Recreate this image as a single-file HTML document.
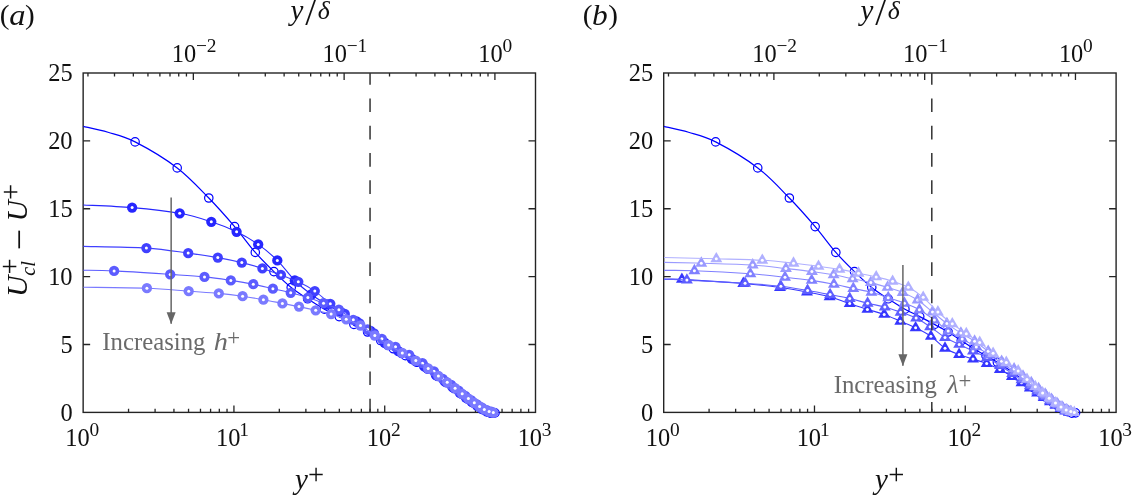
<!DOCTYPE html>
<html><head><meta charset="utf-8"><title>figure</title>
<style>html,body{margin:0;padding:0;background:#fff}svg{display:block}</style>
</head><body>
<svg width="1134" height="496" viewBox="0 0 1134 496" font-family='"Liberation Serif", serif'>
<rect width="1134" height="496" fill="#fff"/>
<clipPath id="ca"><rect x="83.15" y="73" width="472.35" height="351.4"/></clipPath>
<rect x="83.15" y="73" width="452.35" height="339.4" fill="none" stroke="#242424" stroke-width="1.4"/>
<path d="M128.54 412.4v-3.6M155.09 412.4v-3.6M173.93 412.4v-3.6M188.54 412.4v-3.6M200.48 412.4v-3.6M210.58 412.4v-3.6M219.32 412.4v-3.6M227.03 412.4v-3.6M233.93 412.4v-7M279.32 412.4v-3.6M305.88 412.4v-3.6M324.71 412.4v-3.6M339.33 412.4v-3.6M351.27 412.4v-3.6M361.36 412.4v-3.6M370.1 412.4v-3.6M377.82 412.4v-3.6M384.72 412.4v-7M430.11 412.4v-3.6M456.66 412.4v-3.6M475.5 412.4v-3.6M490.11 412.4v-3.6M502.05 412.4v-3.6M512.14 412.4v-3.6M520.89 412.4v-3.6M528.6 412.4v-3.6M87.95 73v3.6M114.5 73v3.6M133.34 73v3.6M147.95 73v3.6M159.89 73v3.6M169.99 73v3.6M178.73 73v3.6M186.44 73v3.6M193.34 73v7M238.73 73v3.6M265.28 73v3.6M284.12 73v3.6M298.74 73v3.6M310.68 73v3.6M320.77 73v3.6M329.51 73v3.6M337.23 73v3.6M344.13 73v7M389.52 73v3.6M416.07 73v3.6M434.91 73v3.6M449.52 73v3.6M461.46 73v3.6M471.55 73v3.6M480.3 73v3.6M488.01 73v3.6M494.91 73v7M83.15 344.52h7M535.5 344.52h-7M83.15 276.64h7M535.5 276.64h-7M83.15 208.76h7M535.5 208.76h-7M83.15 140.88h7M535.5 140.88h-7" stroke="#242424" stroke-width="1.3" fill="none"/>
<g clip-path="url(#ca)">
<path d="M83.3 126.4C87.42 127.38 99.37 129.72 108 132.3C116.63 134.88 123.57 135.97 135.1 141.9C146.63 147.83 164.92 158.55 177.2 167.9C189.48 177.25 199.23 188.22 208.8 198C218.37 207.78 226.85 217.53 234.6 226.6C242.35 235.67 248.75 244.9 255.3 252.4C261.85 259.9 267.92 265.75 273.9 271.6C279.88 277.45 285.58 282.97 291.2 287.5C296.82 292.03 302.07 295.18 307.6 298.8C313.13 302.42 319.13 306.23 324.4 309.2C329.67 312.17 334.28 314.07 339.2 316.6C344.12 319.13 349.17 321.83 353.9 324.4C358.63 326.97 363.13 329.31 367.6 332C372.07 334.69 376.41 337.78 380.71 340.57C385 343.36 389.25 346.23 393.37 348.75C397.49 351.27 401.51 353.43 405.42 355.68C409.33 357.93 413.16 360.03 416.82 362.25C420.48 364.46 424.03 366.72 427.38 368.98C430.73 371.24 433.9 373.65 436.92 375.83C439.94 378.01 442.79 380.07 445.51 382.07C448.23 384.07 450.8 385.96 453.26 387.83C455.72 389.69 458.03 391.54 460.25 393.26C462.47 394.99 464.56 396.66 466.57 398.18C468.58 399.71 470.49 401.08 472.33 402.4C474.17 403.72 475.93 404.97 477.63 406.12C479.33 407.27 480.95 408.38 482.53 409.31C484.1 410.23 485.61 411.05 487.08 411.68C488.55 412.3 490.02 412.88 491.34 413.08C492.66 413.28 494.39 412.93 495 412.9" fill="none" stroke="#0000ff" stroke-width="1.2" stroke-linejoin="round"/>
<g fill="none" stroke="#0000ff" stroke-width="1.2">
<circle cx="135.1" cy="141.9" r="4.2"/><circle cx="177.2" cy="167.9" r="4.2"/><circle cx="208.8" cy="198" r="4.2"/><circle cx="234.6" cy="226.6" r="4.2"/><circle cx="255.3" cy="252.4" r="4.2"/><circle cx="273.9" cy="271.6" r="4.2"/><circle cx="291.2" cy="287.5" r="4.2"/><circle cx="307.6" cy="298.8" r="4.2"/><circle cx="324.4" cy="309.2" r="4.2"/><circle cx="339.2" cy="316.6" r="4.2"/><circle cx="353.9" cy="324.4" r="4.2"/><circle cx="367.6" cy="332" r="4.2"/><circle cx="380.71" cy="340.57" r="4.2"/><circle cx="393.37" cy="348.75" r="4.2"/><circle cx="405.42" cy="355.68" r="4.2"/><circle cx="416.82" cy="362.25" r="4.2"/><circle cx="427.38" cy="368.98" r="4.2"/><circle cx="436.92" cy="375.83" r="4.2"/><circle cx="445.51" cy="382.07" r="4.2"/><circle cx="453.26" cy="387.83" r="4.2"/><circle cx="460.25" cy="393.26" r="4.2"/><circle cx="466.57" cy="398.18" r="4.2"/><circle cx="472.33" cy="402.4" r="4.2"/><circle cx="477.63" cy="406.12" r="4.2"/><circle cx="482.53" cy="409.31" r="4.2"/><circle cx="487.08" cy="411.68" r="4.2"/><circle cx="491.34" cy="413.08" r="4.2"/><circle cx="495" cy="412.9" r="4.2"/>
</g>
<path d="M83.3 205C91.43 205.43 116.03 206.22 132.1 207.6C148.17 208.98 166.5 210.93 179.7 213.3C192.9 215.67 201.82 218.72 211.3 221.8C220.78 224.88 228.78 228.03 236.6 231.8C244.42 235.57 251.42 239.63 258.2 244.4C264.98 249.17 271.2 254.38 277.3 260.4C283.4 266.42 289.13 274.82 294.8 280.5C300.47 286.18 305.93 290.5 311.3 294.5C316.67 298.5 321.88 301.42 327 304.5C332.12 307.58 337.08 310.17 342 313C346.92 315.83 351.75 318.5 356.5 321.5C361.25 324.5 365.82 327.46 370.5 331C375.18 334.54 379.97 339.4 384.6 342.75C389.23 346.1 393.77 348.41 398.3 351.09C402.83 353.77 407.48 356.26 411.8 358.82C416.12 361.38 420.18 363.76 424.2 366.45C428.22 369.15 432.48 372.5 435.9 374.99C439.32 377.47 441.92 379.34 444.7 381.38C447.48 383.42 450.1 385.34 452.6 387.23C455.1 389.12 457.48 391.01 459.7 392.73C461.92 394.45 463.88 396.03 465.9 397.56C467.92 399.1 469.93 400.57 471.8 401.92C473.67 403.27 475.43 404.52 477.1 405.65C478.77 406.79 480.22 407.81 481.8 408.76C483.38 409.71 485.1 410.67 486.6 411.35C488.1 412.04 490.1 412.61 490.8 412.86" fill="none" stroke="#2626ff" stroke-width="1.1" stroke-linejoin="round"/>
<g fill="#2626ff"><circle cx="132.1" cy="207.6" r="5.15"/><circle cx="179.7" cy="213.3" r="5.15"/><circle cx="211.3" cy="221.8" r="5.15"/><circle cx="236.6" cy="231.8" r="5.15"/><circle cx="258.2" cy="244.4" r="5.15"/><circle cx="277.3" cy="260.4" r="5.15"/><circle cx="294.8" cy="280.5" r="5.15"/><circle cx="311.3" cy="294.5" r="5.15"/><circle cx="327" cy="304.5" r="5.15"/><circle cx="342" cy="313" r="5.15"/><circle cx="356.5" cy="321.5" r="5.15"/><circle cx="370.5" cy="331" r="5.15"/><circle cx="384.6" cy="342.75" r="5.15"/><circle cx="398.3" cy="351.09" r="5.15"/><circle cx="411.8" cy="358.82" r="5.15"/><circle cx="424.2" cy="366.45" r="5.15"/><circle cx="435.9" cy="374.99" r="5.15"/><circle cx="444.7" cy="381.38" r="5.15"/><circle cx="452.6" cy="387.23" r="5.15"/><circle cx="459.7" cy="392.73" r="5.15"/><circle cx="465.9" cy="397.56" r="5.15"/><circle cx="471.8" cy="401.92" r="5.15"/><circle cx="477.1" cy="405.65" r="5.15"/><circle cx="481.8" cy="408.76" r="5.15"/><circle cx="486.6" cy="411.35" r="5.15"/><circle cx="490.8" cy="412.86" r="5.15"/></g>
<g fill="#fff"><circle cx="132.1" cy="207.6" r="1.5"/><circle cx="179.7" cy="213.3" r="1.5"/><circle cx="211.3" cy="221.8" r="1.5"/><circle cx="236.6" cy="231.8" r="1.5"/><circle cx="258.2" cy="244.4" r="1.5"/><circle cx="277.3" cy="260.4" r="1.5"/><circle cx="294.8" cy="280.5" r="1.5"/><circle cx="311.3" cy="294.5" r="1.5"/><circle cx="327" cy="304.5" r="1.5"/><circle cx="342" cy="313" r="1.5"/><circle cx="356.5" cy="321.5" r="1.5"/><circle cx="370.5" cy="331" r="1.5"/><circle cx="384.6" cy="342.75" r="1.5"/><circle cx="398.3" cy="351.09" r="1.5"/><circle cx="411.8" cy="358.82" r="1.5"/><circle cx="424.2" cy="366.45" r="1.5"/><circle cx="435.9" cy="374.99" r="1.5"/><circle cx="444.7" cy="381.38" r="1.5"/><circle cx="452.6" cy="387.23" r="1.5"/><circle cx="459.7" cy="392.73" r="1.5"/><circle cx="465.9" cy="397.56" r="1.5"/><circle cx="471.8" cy="401.92" r="1.5"/><circle cx="477.1" cy="405.65" r="1.5"/><circle cx="481.8" cy="408.76" r="1.5"/><circle cx="486.6" cy="411.35" r="1.5"/><circle cx="490.8" cy="412.86" r="1.5"/></g>
<path d="M83.3 246.4C93.82 246.68 128.92 246.98 146.4 248.1C163.88 249.22 176.3 251.52 188.2 253.1C200.1 254.68 208.87 256.02 217.8 257.6C226.73 259.18 234.37 260.8 241.8 262.6C249.23 264.4 255.88 266.35 262.4 268.4C268.92 270.45 274.92 272.67 280.9 274.9C286.88 277.13 292.65 279.1 298.3 281.8C303.95 284.5 309.47 287.43 314.8 291.1C320.13 294.77 325.3 299.98 330.3 303.8C335.3 307.62 339.93 310.75 344.8 314C349.67 317.25 354.63 320.08 359.5 323.3C364.37 326.52 369.25 329.65 374 333.3C378.75 336.95 383.38 341.88 388 345.19C392.62 348.5 397.17 350.54 401.7 353.15C406.23 355.77 410.88 358.26 415.2 360.86C419.52 363.45 423.83 366.18 427.6 368.72C431.37 371.25 434.63 373.77 437.8 376.06C440.97 378.36 443.82 380.42 446.6 382.46C449.38 384.51 452 386.44 454.5 388.35C457 390.26 459.38 392.2 461.6 393.93C463.82 395.66 465.78 397.23 467.8 398.74C469.82 400.24 471.83 401.65 473.7 402.97C475.57 404.3 477.33 405.57 479 406.68C480.67 407.79 482.12 408.76 483.7 409.63C485.28 410.5 487 411.37 488.5 411.93C490 412.48 492 412.8 492.7 412.97" fill="none" stroke="#4040ff" stroke-width="1.1" stroke-linejoin="round"/>
<g fill="#4040ff"><circle cx="146.4" cy="248.1" r="5.15"/><circle cx="188.2" cy="253.1" r="5.15"/><circle cx="217.8" cy="257.6" r="5.15"/><circle cx="241.8" cy="262.6" r="5.15"/><circle cx="262.4" cy="268.4" r="5.15"/><circle cx="280.9" cy="274.9" r="5.15"/><circle cx="298.3" cy="281.8" r="5.15"/><circle cx="314.8" cy="291.1" r="5.15"/><circle cx="330.3" cy="303.8" r="5.15"/><circle cx="344.8" cy="314" r="5.15"/><circle cx="359.5" cy="323.3" r="5.15"/><circle cx="374" cy="333.3" r="5.15"/><circle cx="388" cy="345.19" r="5.15"/><circle cx="401.7" cy="353.15" r="5.15"/><circle cx="415.2" cy="360.86" r="5.15"/><circle cx="427.6" cy="368.72" r="5.15"/><circle cx="437.8" cy="376.06" r="5.15"/><circle cx="446.6" cy="382.46" r="5.15"/><circle cx="454.5" cy="388.35" r="5.15"/><circle cx="461.6" cy="393.93" r="5.15"/><circle cx="467.8" cy="398.74" r="5.15"/><circle cx="473.7" cy="402.97" r="5.15"/><circle cx="479" cy="406.68" r="5.15"/><circle cx="483.7" cy="409.63" r="5.15"/><circle cx="488.5" cy="411.93" r="5.15"/><circle cx="492.7" cy="412.97" r="5.15"/></g>
<g fill="#fff"><circle cx="146.4" cy="248.1" r="1.5"/><circle cx="188.2" cy="253.1" r="1.5"/><circle cx="217.8" cy="257.6" r="1.5"/><circle cx="241.8" cy="262.6" r="1.5"/><circle cx="262.4" cy="268.4" r="1.5"/><circle cx="280.9" cy="274.9" r="1.5"/><circle cx="298.3" cy="281.8" r="1.5"/><circle cx="314.8" cy="291.1" r="1.5"/><circle cx="330.3" cy="303.8" r="1.5"/><circle cx="344.8" cy="314" r="1.5"/><circle cx="359.5" cy="323.3" r="1.5"/><circle cx="374" cy="333.3" r="1.5"/><circle cx="388" cy="345.19" r="1.5"/><circle cx="401.7" cy="353.15" r="1.5"/><circle cx="415.2" cy="360.86" r="1.5"/><circle cx="427.6" cy="368.72" r="1.5"/><circle cx="437.8" cy="376.06" r="1.5"/><circle cx="446.6" cy="382.46" r="1.5"/><circle cx="454.5" cy="388.35" r="1.5"/><circle cx="461.6" cy="393.93" r="1.5"/><circle cx="467.8" cy="398.74" r="1.5"/><circle cx="473.7" cy="402.97" r="1.5"/><circle cx="479" cy="406.68" r="1.5"/><circle cx="483.7" cy="409.63" r="1.5"/><circle cx="488.5" cy="411.93" r="1.5"/><circle cx="492.7" cy="412.97" r="1.5"/></g>
<path d="M83.3 270.2C88.43 270.32 99.62 270.2 114.1 270.9C128.58 271.6 155.13 273.4 170.2 274.4C185.27 275.4 194.4 275.9 204.5 276.9C214.6 277.9 222.67 279.18 230.8 280.4C238.93 281.62 246.28 282.82 253.3 284.2C260.32 285.58 266.67 287.27 272.9 288.7C279.13 290.13 284.87 291.32 290.7 292.8C296.53 294.28 302.43 295.87 307.9 297.6C313.37 299.33 318.33 301.18 323.5 303.2C328.67 305.22 333.93 306.93 338.9 309.7C343.87 312.47 348.52 316.5 353.3 319.8C358.08 323.1 362.83 326.33 367.6 329.5C372.37 332.67 377.25 335.92 381.9 338.8C386.55 341.68 390.95 344.13 395.5 346.8C400.05 349.47 404.7 352.07 409.2 354.8C413.7 357.53 418.37 360.45 422.5 363.2C426.63 365.95 430.62 368.7 434 371.3C437.38 373.9 439.94 376.52 442.8 378.8C445.66 381.07 448.51 382.97 451.15 384.95C453.79 386.93 456.29 388.88 458.65 390.7C461.01 392.52 463.18 394.28 465.3 395.9C467.42 397.52 469.41 398.99 471.35 400.4C473.29 401.81 475.18 403.14 476.95 404.35C478.72 405.56 480.33 406.67 481.95 407.65C483.58 408.62 485.16 409.52 486.7 410.2C488.24 410.88 490.45 411.49 491.2 411.75" fill="none" stroke="#5c5cff" stroke-width="1.1" stroke-linejoin="round"/>
<g fill="#5c5cff"><circle cx="114.1" cy="270.9" r="5.15"/><circle cx="170.2" cy="274.4" r="5.15"/><circle cx="204.5" cy="276.9" r="5.15"/><circle cx="230.8" cy="280.4" r="5.15"/><circle cx="253.3" cy="284.2" r="5.15"/><circle cx="272.9" cy="288.7" r="5.15"/><circle cx="290.7" cy="292.8" r="5.15"/><circle cx="307.9" cy="297.6" r="5.15"/><circle cx="323.5" cy="303.2" r="5.15"/><circle cx="338.9" cy="309.7" r="5.15"/><circle cx="353.3" cy="319.8" r="5.15"/><circle cx="367.6" cy="329.5" r="5.15"/><circle cx="381.9" cy="338.8" r="5.15"/><circle cx="395.5" cy="346.8" r="5.15"/><circle cx="409.2" cy="354.8" r="5.15"/><circle cx="422.5" cy="363.2" r="5.15"/><circle cx="434" cy="371.3" r="5.15"/><circle cx="442.8" cy="378.8" r="5.15"/><circle cx="451.15" cy="384.95" r="5.15"/><circle cx="458.65" cy="390.7" r="5.15"/><circle cx="465.3" cy="395.9" r="5.15"/><circle cx="471.35" cy="400.4" r="5.15"/><circle cx="476.95" cy="404.35" r="5.15"/><circle cx="481.95" cy="407.65" r="5.15"/><circle cx="486.7" cy="410.2" r="5.15"/><circle cx="491.2" cy="411.75" r="5.15"/></g>
<g fill="#fff"><circle cx="114.1" cy="270.9" r="1.5"/><circle cx="170.2" cy="274.4" r="1.5"/><circle cx="204.5" cy="276.9" r="1.5"/><circle cx="230.8" cy="280.4" r="1.5"/><circle cx="253.3" cy="284.2" r="1.5"/><circle cx="272.9" cy="288.7" r="1.5"/><circle cx="290.7" cy="292.8" r="1.5"/><circle cx="307.9" cy="297.6" r="1.5"/><circle cx="323.5" cy="303.2" r="1.5"/><circle cx="338.9" cy="309.7" r="1.5"/><circle cx="353.3" cy="319.8" r="1.5"/><circle cx="367.6" cy="329.5" r="1.5"/><circle cx="381.9" cy="338.8" r="1.5"/><circle cx="395.5" cy="346.8" r="1.5"/><circle cx="409.2" cy="354.8" r="1.5"/><circle cx="422.5" cy="363.2" r="1.5"/><circle cx="434" cy="371.3" r="1.5"/><circle cx="442.8" cy="378.8" r="1.5"/><circle cx="451.15" cy="384.95" r="1.5"/><circle cx="458.65" cy="390.7" r="1.5"/><circle cx="465.3" cy="395.9" r="1.5"/><circle cx="471.35" cy="400.4" r="1.5"/><circle cx="476.95" cy="404.35" r="1.5"/><circle cx="481.95" cy="407.65" r="1.5"/><circle cx="486.7" cy="410.2" r="1.5"/><circle cx="491.2" cy="411.75" r="1.5"/></g>
<path d="M83.3 287.2C93.9 287.37 129.33 287.53 146.9 288.2C164.47 288.87 176.72 290.33 188.7 291.2C200.68 292.07 209.82 292.57 218.8 293.4C227.78 294.23 235.17 295.15 242.6 296.2C250.03 297.25 256.77 298.5 263.4 299.7C270.03 300.9 276.47 302.25 282.4 303.4C288.33 304.55 293.45 305.45 299 306.6C304.55 307.75 310.35 309.05 315.7 310.3C321.05 311.55 326.02 312.6 331.1 314.1C336.18 315.6 341.3 317.4 346.2 319.3C351.1 321.2 355.73 322.8 360.5 325.5C365.27 328.2 370.12 332.25 374.8 335.5C379.48 338.75 384.02 342.1 388.6 345C393.18 347.9 397.77 350.3 402.3 352.9C406.83 355.5 411.48 358 415.8 360.6C420.12 363.2 424.43 365.95 428.2 368.5C431.97 371.05 435.23 373.6 438.4 375.9C441.57 378.2 444.42 380.25 447.2 382.3C449.98 384.35 452.6 386.28 455.1 388.2C457.6 390.12 459.98 392.07 462.2 393.8C464.42 395.53 466.38 397.1 468.4 398.6C470.42 400.1 472.43 401.48 474.3 402.8C476.17 404.12 477.93 405.4 479.6 406.5C481.27 407.6 482.72 408.55 484.3 409.4C485.88 410.25 487.6 411.08 489.1 411.6C490.6 412.12 492.6 412.35 493.3 412.5" fill="none" stroke="#7a7aff" stroke-width="1.1" stroke-linejoin="round"/>
<g fill="#7a7aff"><circle cx="146.9" cy="288.2" r="5.15"/><circle cx="188.7" cy="291.2" r="5.15"/><circle cx="218.8" cy="293.4" r="5.15"/><circle cx="242.6" cy="296.2" r="5.15"/><circle cx="263.4" cy="299.7" r="5.15"/><circle cx="282.4" cy="303.4" r="5.15"/><circle cx="299" cy="306.6" r="5.15"/><circle cx="315.7" cy="310.3" r="5.15"/><circle cx="331.1" cy="314.1" r="5.15"/><circle cx="346.2" cy="319.3" r="5.15"/><circle cx="360.5" cy="325.5" r="5.15"/><circle cx="374.8" cy="335.5" r="5.15"/><circle cx="388.6" cy="345" r="5.15"/><circle cx="402.3" cy="352.9" r="5.15"/><circle cx="415.8" cy="360.6" r="5.15"/><circle cx="428.2" cy="368.5" r="5.15"/><circle cx="438.4" cy="375.9" r="5.15"/><circle cx="447.2" cy="382.3" r="5.15"/><circle cx="455.1" cy="388.2" r="5.15"/><circle cx="462.2" cy="393.8" r="5.15"/><circle cx="468.4" cy="398.6" r="5.15"/><circle cx="474.3" cy="402.8" r="5.15"/><circle cx="479.6" cy="406.5" r="5.15"/><circle cx="484.3" cy="409.4" r="5.15"/><circle cx="489.1" cy="411.6" r="5.15"/><circle cx="493.3" cy="412.5" r="5.15"/></g>
<g fill="#fff"><circle cx="146.9" cy="288.2" r="1.5"/><circle cx="188.7" cy="291.2" r="1.5"/><circle cx="218.8" cy="293.4" r="1.5"/><circle cx="242.6" cy="296.2" r="1.5"/><circle cx="263.4" cy="299.7" r="1.5"/><circle cx="282.4" cy="303.4" r="1.5"/><circle cx="299" cy="306.6" r="1.5"/><circle cx="315.7" cy="310.3" r="1.5"/><circle cx="331.1" cy="314.1" r="1.5"/><circle cx="346.2" cy="319.3" r="1.5"/><circle cx="360.5" cy="325.5" r="1.5"/><circle cx="374.8" cy="335.5" r="1.5"/><circle cx="388.6" cy="345" r="1.5"/><circle cx="402.3" cy="352.9" r="1.5"/><circle cx="415.8" cy="360.6" r="1.5"/><circle cx="428.2" cy="368.5" r="1.5"/><circle cx="438.4" cy="375.9" r="1.5"/><circle cx="447.2" cy="382.3" r="1.5"/><circle cx="455.1" cy="388.2" r="1.5"/><circle cx="462.2" cy="393.8" r="1.5"/><circle cx="468.4" cy="398.6" r="1.5"/><circle cx="474.3" cy="402.8" r="1.5"/><circle cx="479.6" cy="406.5" r="1.5"/><circle cx="484.3" cy="409.4" r="1.5"/><circle cx="489.1" cy="411.6" r="1.5"/><circle cx="493.3" cy="412.5" r="1.5"/></g>
</g>
<path d="M370.05 412.4V73" stroke="#333" stroke-width="1.5" stroke-dasharray="13.65 13.65" fill="none"/>
<path d="M171.15 197.5V323.7" stroke="#666" stroke-width="1.5" fill="none"/>
<path d="M171.15 323.9l-4.5 -11.7h9z" fill="#666"/>
<text x="60.38" y="420.8" font-size="24.4" fill="#111">0</text>
<text x="60.4" y="352.92" font-size="24.4" fill="#111">5</text>
<text x="48.18" y="285.04" font-size="24.4" fill="#111">10</text>
<text x="48.2" y="217.16" font-size="24.4" fill="#111">15</text>
<text x="48.18" y="149.28" font-size="24.4" fill="#111">20</text>
<text x="48.2" y="81.4" font-size="24.4" fill="#111">25</text>
<text x="65.31" y="445.8" font-size="24.4" fill="#111">10</text>
<text x="89.51" y="436.3" font-size="19.4" fill="#111">0</text>
<text x="216.09" y="445.8" font-size="24.4" fill="#111">10</text>
<text x="239.33" y="436.3" font-size="19.4" fill="#111">1</text>
<text x="366.87" y="445.8" font-size="24.4" fill="#111">10</text>
<text x="390.96" y="436.3" font-size="19.4" fill="#111">2</text>
<text x="517.66" y="445.8" font-size="24.4" fill="#111">10</text>
<text x="541.67" y="436.3" font-size="19.4" fill="#111">3</text>
<text x="171.7" y="61.9" font-size="24.4" fill="#111">10</text>
<text x="195.88" y="52.4" font-size="19.4" fill="#111">−2</text>
<text x="322.48" y="61.9" font-size="24.4" fill="#111">10</text>
<text x="346.66" y="52.4" font-size="19.4" fill="#111">−1</text>
<text x="478.37" y="61.9" font-size="24.4" fill="#111">10</text>
<text x="502.57" y="52.4" font-size="19.4" fill="#111">0</text>
<text x="290.41" y="19.51" font-size="29" font-style="italic" fill="#111">y</text>
<text x="305.3" y="25.42" font-size="38.5" fill="#111">/</text>
<text x="317.64" y="19.25" font-size="25.8" font-style="italic" fill="#111">δ</text>
<text x="294.91" y="489.21" font-size="29" font-style="italic" fill="#111">y</text>
<text x="307.97" y="483.6" font-size="28.6" fill="#111">+</text>
<text transform="translate(-0.28 24.09) scale(1.050 1)" font-size="27.8" fill="#111">(</text>
<text transform="translate(9.13 24.6) scale(1.105 1)" font-size="29.5" font-style="italic" fill="#111">a</text>
<text transform="translate(25.06 24.09) scale(1.050 1)" font-size="27.8" fill="#111">)</text>
<text transform="translate(102.3 350.1) scale(1.016 1)" font-size="24.4" fill="#6a6a6a">Increasing</text>
<text transform="translate(213.87 350.1) scale(1.164 1)" font-size="24.4" font-style="italic" fill="#6a6a6a">h</text>
<text x="227.16" y="344.57" font-size="22.8" fill="#6a6a6a">+</text>
<g transform="translate(27.2 294.6) rotate(-90)">
<text transform="translate(-2.45 0) scale(0.982 1)" font-size="30.5" font-style="italic" fill="#111">U</text>
<text x="18.78" y="7.6" font-size="20.2" font-style="italic" fill="#111">cl</text>
<text x="20.22" y="-7.9" font-size="28.6" fill="#111">+</text>
<text transform="translate(44.31 3.42) scale(1.087 1)" font-size="35" fill="#111">−</text>
<text transform="translate(73.19 0) scale(0.967 1)" font-size="30.5" font-style="italic" fill="#111">U</text>
<text x="94.62" y="-7.3" font-size="28.6" fill="#111">+</text>
</g>
<clipPath id="cb"><rect x="663.7" y="73" width="472.4" height="351.4"/></clipPath>
<rect x="663.7" y="73" width="452.4" height="339.4" fill="none" stroke="#242424" stroke-width="1.4"/>
<path d="M709.09 412.4v-3.6M735.64 412.4v-3.6M754.48 412.4v-3.6M769.09 412.4v-3.6M781.03 412.4v-3.6M791.13 412.4v-3.6M799.87 412.4v-3.6M807.58 412.4v-3.6M814.48 412.4v-7M859.87 412.4v-3.6M886.43 412.4v-3.6M905.26 412.4v-3.6M919.88 412.4v-3.6M931.82 412.4v-3.6M941.91 412.4v-3.6M950.65 412.4v-3.6M958.37 412.4v-3.6M965.27 412.4v-7M1010.66 412.4v-3.6M1037.21 412.4v-3.6M1056.05 412.4v-3.6M1070.66 412.4v-3.6M1082.6 412.4v-3.6M1092.69 412.4v-3.6M1101.44 412.4v-3.6M1109.15 412.4v-3.6M668.5 73v3.6M695.05 73v3.6M713.89 73v3.6M728.5 73v3.6M740.44 73v3.6M750.54 73v3.6M759.28 73v3.6M766.99 73v3.6M773.89 73v7M819.28 73v3.6M845.83 73v3.6M864.67 73v3.6M879.29 73v3.6M891.23 73v3.6M901.32 73v3.6M910.06 73v3.6M917.78 73v3.6M924.68 73v7M970.07 73v3.6M996.62 73v3.6M1015.46 73v3.6M1030.07 73v3.6M1042.01 73v3.6M1052.1 73v3.6M1060.85 73v3.6M1068.56 73v3.6M1075.46 73v7M663.7 344.52h7M1116.1 344.52h-7M663.7 276.64h7M1116.1 276.64h-7M663.7 208.76h7M1116.1 208.76h-7M663.7 140.88h7M1116.1 140.88h-7" stroke="#242424" stroke-width="1.3" fill="none"/>
<g clip-path="url(#cb)">
<path d="M663.85 126.4C667.97 127.38 679.92 129.72 688.55 132.3C697.18 134.88 704.12 135.97 715.65 141.9C727.18 147.83 745.47 158.55 757.75 167.9C770.03 177.25 779.78 188.22 789.35 198C798.92 207.78 807.4 217.53 815.15 226.6C822.9 235.67 829.3 244.9 835.85 252.4C842.4 259.9 848.47 265.75 854.45 271.6C860.43 277.45 866.13 282.97 871.75 287.5C877.37 292.03 882.62 295.18 888.15 298.8C893.68 302.42 899.68 306.23 904.95 309.2C910.22 312.17 914.83 314.07 919.75 316.6C924.67 319.13 929.72 321.83 934.45 324.4C939.18 326.97 943.68 329.31 948.15 332C952.62 334.69 956.96 337.78 961.26 340.57C965.55 343.36 969.8 346.23 973.92 348.75C978.04 351.27 982.06 353.43 985.97 355.68C989.88 357.93 993.71 360.03 997.37 362.25C1001.03 364.46 1004.58 366.72 1007.93 368.98C1011.28 371.24 1014.45 373.65 1017.47 375.83C1020.49 378.01 1023.34 380.07 1026.06 382.07C1028.78 384.07 1031.35 385.96 1033.81 387.83C1036.27 389.69 1038.58 391.54 1040.8 393.26C1043.02 394.99 1045.11 396.66 1047.12 398.18C1049.13 399.71 1051.04 401.08 1052.88 402.4C1054.72 403.72 1056.48 404.97 1058.18 406.12C1059.88 407.27 1061.5 408.38 1063.08 409.31C1064.65 410.23 1066.16 411.05 1067.63 411.68C1069.1 412.3 1070.57 412.88 1071.89 413.08C1073.21 413.28 1074.94 412.93 1075.55 412.9" fill="none" stroke="#0000ff" stroke-width="1.2" stroke-linejoin="round"/>
<g fill="none" stroke="#0000ff" stroke-width="1.2">
<circle cx="715.65" cy="141.9" r="4.2"/><circle cx="757.75" cy="167.9" r="4.2"/><circle cx="789.35" cy="198" r="4.2"/><circle cx="815.15" cy="226.6" r="4.2"/><circle cx="835.85" cy="252.4" r="4.2"/><circle cx="854.45" cy="271.6" r="4.2"/><circle cx="871.75" cy="287.5" r="4.2"/><circle cx="888.15" cy="298.8" r="4.2"/><circle cx="904.95" cy="309.2" r="4.2"/><circle cx="919.75" cy="316.6" r="4.2"/><circle cx="934.45" cy="324.4" r="4.2"/><circle cx="948.15" cy="332" r="4.2"/><circle cx="961.26" cy="340.57" r="4.2"/><circle cx="973.92" cy="348.75" r="4.2"/><circle cx="985.97" cy="355.68" r="4.2"/><circle cx="997.37" cy="362.25" r="4.2"/><circle cx="1007.93" cy="368.98" r="4.2"/><circle cx="1017.47" cy="375.83" r="4.2"/><circle cx="1026.06" cy="382.07" r="4.2"/><circle cx="1033.81" cy="387.83" r="4.2"/><circle cx="1040.8" cy="393.26" r="4.2"/><circle cx="1047.12" cy="398.18" r="4.2"/><circle cx="1052.88" cy="402.4" r="4.2"/><circle cx="1058.18" cy="406.12" r="4.2"/><circle cx="1063.08" cy="409.31" r="4.2"/><circle cx="1067.63" cy="411.68" r="4.2"/><circle cx="1071.89" cy="413.08" r="4.2"/><circle cx="1075.55" cy="412.9" r="4.2"/>
</g>
<path d="M663.9 279.3C666.9 279.32 668.67 278.7 681.9 279.4C695.13 280.1 726.95 282.15 743.3 283.5C759.65 284.85 769.38 286.08 780 287.5C790.62 288.92 798.73 290.45 807 292C815.27 293.55 822.48 294.87 829.6 296.8C836.72 298.73 843.4 301.5 849.7 303.6C856 305.7 861.65 307.6 867.4 309.4C873.15 311.2 878.72 312.43 884.2 314.4C889.68 316.37 895.07 318.97 900.3 321.2C905.53 323.43 910.5 325.28 915.6 327.8C920.7 330.32 926 332.9 930.9 336.3C935.8 339.7 940.3 345.17 945 348.2C949.7 351.23 954.43 352.68 959.1 354.5C963.77 356.32 968.4 357.6 973 359.1C977.6 360.6 982.23 361.75 986.7 363.5C991.17 365.25 995.6 367.43 999.8 369.6C1004 371.77 1008.28 374.31 1011.9 376.5C1015.52 378.69 1018.52 380.78 1021.5 382.72C1024.48 384.65 1027.2 386.39 1029.8 388.1C1032.4 389.81 1034.78 391.39 1037.1 392.97C1039.42 394.55 1041.55 396.09 1043.7 397.57C1045.85 399.05 1048.03 400.57 1050 401.86C1051.97 403.14 1053.72 404.19 1055.5 405.29C1057.28 406.4 1059.07 407.54 1060.7 408.48C1062.33 409.43 1063.95 410.3 1065.3 410.95C1066.65 411.6 1068.22 412.15 1068.8 412.39" fill="none" stroke="#3636ff" stroke-width="1.1" stroke-linejoin="round"/>
<g fill="#3636ff">
<path d="M681.9 272.5l5.98 10.35h-11.95z"/><path d="M743.3 276.6l5.98 10.35h-11.95z"/><path d="M780 280.6l5.98 10.35h-11.95z"/><path d="M807 285.1l5.98 10.35h-11.95z"/><path d="M829.6 289.9l5.98 10.35h-11.95z"/><path d="M849.7 296.7l5.98 10.35h-11.95z"/><path d="M867.4 302.5l5.98 10.35h-11.95z"/><path d="M884.2 307.5l5.98 10.35h-11.95z"/><path d="M900.3 314.3l5.98 10.35h-11.95z"/><path d="M915.6 320.9l5.98 10.35h-11.95z"/><path d="M930.9 329.4l5.98 10.35h-11.95z"/><path d="M945 341.3l5.98 10.35h-11.95z"/><path d="M959.1 347.6l5.98 10.35h-11.95z"/><path d="M973 352.2l5.98 10.35h-11.95z"/><path d="M986.7 356.6l5.98 10.35h-11.95z"/><path d="M999.8 362.7l5.98 10.35h-11.95z"/><path d="M1011.9 369.6l5.98 10.35h-11.95z"/><path d="M1021.5 375.82l5.98 10.35h-11.95z"/><path d="M1029.8 381.2l5.98 10.35h-11.95z"/><path d="M1037.1 386.07l5.98 10.35h-11.95z"/><path d="M1043.7 390.67l5.98 10.35h-11.95z"/><path d="M1050 394.96l5.98 10.35h-11.95z"/><path d="M1055.5 398.39l5.98 10.35h-11.95z"/><path d="M1060.7 401.58l5.98 10.35h-11.95z"/><path d="M1065.3 404.05l5.98 10.35h-11.95z"/><path d="M1068.8 405.49l5.98 10.35h-11.95z"/>
</g>
<g fill="#fff"><circle cx="681.9" cy="279.4" r="1.5"/><circle cx="743.3" cy="283.5" r="1.5"/><circle cx="780" cy="287.5" r="1.5"/><circle cx="807" cy="292" r="1.5"/><circle cx="829.6" cy="296.8" r="1.5"/><circle cx="849.7" cy="303.6" r="1.5"/><circle cx="867.4" cy="309.4" r="1.5"/><circle cx="884.2" cy="314.4" r="1.5"/><circle cx="900.3" cy="321.2" r="1.5"/><circle cx="915.6" cy="327.8" r="1.5"/><circle cx="930.9" cy="336.3" r="1.5"/><circle cx="945" cy="348.2" r="1.5"/><circle cx="959.1" cy="354.5" r="1.5"/><circle cx="973" cy="359.1" r="1.5"/><circle cx="986.7" cy="363.5" r="1.5"/><circle cx="999.8" cy="369.6" r="1.5"/><circle cx="1011.9" cy="376.5" r="1.5"/><circle cx="1021.5" cy="382.72" r="1.5"/><circle cx="1029.8" cy="388.1" r="1.5"/><circle cx="1037.1" cy="392.97" r="1.5"/><circle cx="1043.7" cy="397.57" r="1.5"/><circle cx="1050" cy="401.86" r="1.5"/><circle cx="1055.5" cy="405.29" r="1.5"/><circle cx="1060.7" cy="408.48" r="1.5"/><circle cx="1065.3" cy="410.95" r="1.5"/><circle cx="1068.8" cy="412.39" r="1.5"/></g>
<path d="M663.9 279C667.73 279.18 673.37 279.4 686.9 280.1C700.43 280.8 729.43 282.17 745.1 283.2C760.77 284.23 770.48 285.08 780.9 286.3C791.32 287.52 799.4 289.12 807.6 290.5C815.8 291.88 823.08 293.27 830.1 294.6C837.12 295.93 843.45 297.07 849.7 298.5C855.95 299.93 861.75 301.78 867.6 303.2C873.45 304.62 879.3 305.5 884.8 307C890.3 308.5 895.38 310.37 900.6 312.2C905.82 314.03 911.18 315.58 916.1 318C921.02 320.42 925.28 323.45 930.1 326.7C934.92 329.95 940.15 334.55 945 337.5C949.85 340.45 954.53 342.13 959.2 344.4C963.87 346.67 968.37 348.9 973 351.1C977.63 353.3 982.5 355.2 987 357.6C991.5 360 995.8 362.85 1000 365.5C1004.2 368.15 1008.62 371.1 1012.2 373.5C1015.78 375.9 1018.57 377.88 1021.5 379.92C1024.43 381.96 1027.2 383.88 1029.8 385.72C1032.4 387.56 1034.78 389.28 1037.1 390.98C1039.42 392.68 1041.55 394.34 1043.7 395.94C1045.85 397.53 1048.03 399.15 1050 400.54C1051.97 401.93 1053.72 403.07 1055.5 404.26C1057.28 405.46 1059.07 406.68 1060.7 407.7C1062.33 408.71 1063.95 409.65 1065.3 410.35C1066.65 411.05 1068.22 411.63 1068.8 411.89" fill="none" stroke="#5e5eff" stroke-width="1.1" stroke-linejoin="round"/>
<g fill="#5e5eff">
<path d="M686.9 273.2l5.98 10.35h-11.95z"/><path d="M745.1 276.3l5.98 10.35h-11.95z"/><path d="M780.9 279.4l5.98 10.35h-11.95z"/><path d="M807.6 283.6l5.98 10.35h-11.95z"/><path d="M830.1 287.7l5.98 10.35h-11.95z"/><path d="M849.7 291.6l5.98 10.35h-11.95z"/><path d="M867.6 296.3l5.98 10.35h-11.95z"/><path d="M884.8 300.1l5.98 10.35h-11.95z"/><path d="M900.6 305.3l5.98 10.35h-11.95z"/><path d="M916.1 311.1l5.98 10.35h-11.95z"/><path d="M930.1 319.8l5.98 10.35h-11.95z"/><path d="M945 330.6l5.98 10.35h-11.95z"/><path d="M959.2 337.5l5.98 10.35h-11.95z"/><path d="M973 344.2l5.98 10.35h-11.95z"/><path d="M987 350.7l5.98 10.35h-11.95z"/><path d="M1000 358.6l5.98 10.35h-11.95z"/><path d="M1012.2 366.6l5.98 10.35h-11.95z"/><path d="M1021.5 373.02l5.98 10.35h-11.95z"/><path d="M1029.8 378.82l5.98 10.35h-11.95z"/><path d="M1037.1 384.08l5.98 10.35h-11.95z"/><path d="M1043.7 389.04l5.98 10.35h-11.95z"/><path d="M1050 393.64l5.98 10.35h-11.95z"/><path d="M1055.5 397.36l5.98 10.35h-11.95z"/><path d="M1060.7 400.8l5.98 10.35h-11.95z"/><path d="M1065.3 403.45l5.98 10.35h-11.95z"/><path d="M1068.8 404.99l5.98 10.35h-11.95z"/>
</g>
<g fill="#fff"><circle cx="686.9" cy="280.1" r="1.5"/><circle cx="745.1" cy="283.2" r="1.5"/><circle cx="780.9" cy="286.3" r="1.5"/><circle cx="807.6" cy="290.5" r="1.5"/><circle cx="830.1" cy="294.6" r="1.5"/><circle cx="849.7" cy="298.5" r="1.5"/><circle cx="867.6" cy="303.2" r="1.5"/><circle cx="884.8" cy="307" r="1.5"/><circle cx="900.6" cy="312.2" r="1.5"/><circle cx="916.1" cy="318" r="1.5"/><circle cx="930.1" cy="326.7" r="1.5"/><circle cx="945" cy="337.5" r="1.5"/><circle cx="959.2" cy="344.4" r="1.5"/><circle cx="973" cy="351.1" r="1.5"/><circle cx="987" cy="357.6" r="1.5"/><circle cx="1000" cy="365.5" r="1.5"/><circle cx="1012.2" cy="373.5" r="1.5"/><circle cx="1021.5" cy="379.92" r="1.5"/><circle cx="1029.8" cy="385.72" r="1.5"/><circle cx="1037.1" cy="390.98" r="1.5"/><circle cx="1043.7" cy="395.94" r="1.5"/><circle cx="1050" cy="400.54" r="1.5"/><circle cx="1055.5" cy="404.26" r="1.5"/><circle cx="1060.7" cy="407.7" r="1.5"/><circle cx="1065.3" cy="410.35" r="1.5"/><circle cx="1068.8" cy="411.89" r="1.5"/></g>
<path d="M663.9 270.4C668.98 270.45 679.98 270.13 694.4 270.7C708.82 271.27 735.3 272.72 750.4 273.8C765.5 274.88 774.78 276.1 785 277.2C795.22 278.3 803.55 279.23 811.7 280.4C819.85 281.57 826.97 282.85 833.9 284.2C840.83 285.55 847.05 287.15 853.3 288.5C859.55 289.85 865.58 290.77 871.4 292.3C877.22 293.83 882.7 295.88 888.2 297.7C893.7 299.52 899.2 301.2 904.4 303.2C909.6 305.2 914.4 306.9 919.4 309.7C924.4 312.5 929.6 316.45 934.4 320C939.2 323.55 943.57 327.85 948.2 331C952.83 334.15 957.52 336.25 962.2 338.9C966.88 341.55 971.72 344.22 976.3 346.9C980.88 349.58 985.25 352.15 989.7 355C994.15 357.85 998.75 361.2 1003 364C1007.25 366.8 1011.7 369.38 1015.2 371.8C1018.7 374.22 1021.15 376.36 1024 378.54C1026.85 380.71 1029.7 382.84 1032.3 384.86C1034.9 386.88 1037.28 388.81 1039.6 390.66C1041.92 392.52 1044.05 394.3 1046.2 395.99C1048.35 397.68 1050.53 399.33 1052.5 400.8C1054.47 402.27 1056.22 403.56 1058 404.81C1059.78 406.06 1061.57 407.32 1063.2 408.31C1064.83 409.31 1066.45 410.16 1067.8 410.78C1069.15 411.4 1070.72 411.83 1071.3 412.04" fill="none" stroke="#8080ff" stroke-width="1.1" stroke-linejoin="round"/>
<g fill="#8080ff">
<path d="M694.4 263.8l5.98 10.35h-11.95z"/><path d="M750.4 266.9l5.98 10.35h-11.95z"/><path d="M785 270.3l5.98 10.35h-11.95z"/><path d="M811.7 273.5l5.98 10.35h-11.95z"/><path d="M833.9 277.3l5.98 10.35h-11.95z"/><path d="M853.3 281.6l5.98 10.35h-11.95z"/><path d="M871.4 285.4l5.98 10.35h-11.95z"/><path d="M888.2 290.8l5.98 10.35h-11.95z"/><path d="M904.4 296.3l5.98 10.35h-11.95z"/><path d="M919.4 302.8l5.98 10.35h-11.95z"/><path d="M934.4 313.1l5.98 10.35h-11.95z"/><path d="M948.2 324.1l5.98 10.35h-11.95z"/><path d="M962.2 332l5.98 10.35h-11.95z"/><path d="M976.3 340l5.98 10.35h-11.95z"/><path d="M989.7 348.1l5.98 10.35h-11.95z"/><path d="M1003 357.1l5.98 10.35h-11.95z"/><path d="M1015.2 364.9l5.98 10.35h-11.95z"/><path d="M1024 371.64l5.98 10.35h-11.95z"/><path d="M1032.3 377.96l5.98 10.35h-11.95z"/><path d="M1039.6 383.76l5.98 10.35h-11.95z"/><path d="M1046.2 389.09l5.98 10.35h-11.95z"/><path d="M1052.5 393.9l5.98 10.35h-11.95z"/><path d="M1058 397.91l5.98 10.35h-11.95z"/><path d="M1063.2 401.41l5.98 10.35h-11.95z"/><path d="M1067.8 403.88l5.98 10.35h-11.95z"/><path d="M1071.3 405.14l5.98 10.35h-11.95z"/>
</g>
<g fill="#fff"><circle cx="694.4" cy="270.7" r="1.5"/><circle cx="750.4" cy="273.8" r="1.5"/><circle cx="785" cy="277.2" r="1.5"/><circle cx="811.7" cy="280.4" r="1.5"/><circle cx="833.9" cy="284.2" r="1.5"/><circle cx="853.3" cy="288.5" r="1.5"/><circle cx="871.4" cy="292.3" r="1.5"/><circle cx="888.2" cy="297.7" r="1.5"/><circle cx="904.4" cy="303.2" r="1.5"/><circle cx="919.4" cy="309.7" r="1.5"/><circle cx="934.4" cy="320" r="1.5"/><circle cx="948.2" cy="331" r="1.5"/><circle cx="962.2" cy="338.9" r="1.5"/><circle cx="976.3" cy="346.9" r="1.5"/><circle cx="989.7" cy="355" r="1.5"/><circle cx="1003" cy="364" r="1.5"/><circle cx="1015.2" cy="371.8" r="1.5"/><circle cx="1024" cy="378.54" r="1.5"/><circle cx="1032.3" cy="384.86" r="1.5"/><circle cx="1039.6" cy="390.66" r="1.5"/><circle cx="1046.2" cy="395.99" r="1.5"/><circle cx="1052.5" cy="400.8" r="1.5"/><circle cx="1058" cy="404.81" r="1.5"/><circle cx="1063.2" cy="408.31" r="1.5"/><circle cx="1067.8" cy="410.78" r="1.5"/><circle cx="1071.3" cy="412.04" r="1.5"/></g>
<path d="M663.9 262.4C670.13 262.53 686.5 262.77 701.3 263.2C716.1 263.63 738.6 264.12 752.7 265C766.8 265.88 776.03 267.42 785.9 268.5C795.77 269.58 803.95 270.45 811.9 271.5C819.85 272.55 826.82 273.58 833.6 274.8C840.38 276.02 846.4 277.5 852.6 278.8C858.8 280.1 864.98 281.17 870.8 282.6C876.62 284.03 882.18 285.75 887.5 287.4C892.82 289.05 897.68 290.4 902.7 292.5C907.72 294.6 912.63 296.75 917.6 300C922.57 303.25 927.62 308.07 932.5 312C937.38 315.93 942.17 320.08 946.9 323.6C951.63 327.12 956.28 330.17 960.9 333.1C965.52 336.03 970.05 338.17 974.6 341.2C979.15 344.23 983.7 347.95 988.2 351.3C992.7 354.65 997.28 358.37 1001.6 361.3C1005.92 364.23 1010.53 366.42 1014.1 368.9C1017.67 371.38 1020.13 373.9 1023 376.21C1025.87 378.52 1028.7 380.66 1031.3 382.75C1033.9 384.84 1036.28 386.81 1038.6 388.73C1040.92 390.65 1043.05 392.51 1045.2 394.27C1047.35 396.04 1049.53 397.79 1051.5 399.33C1053.47 400.87 1055.22 402.2 1057 403.51C1058.78 404.83 1060.57 406.16 1062.2 407.23C1063.83 408.31 1065.45 409.25 1066.8 409.96C1068.15 410.68 1069.72 411.27 1070.3 411.53" fill="none" stroke="#9a9aff" stroke-width="1.1" stroke-linejoin="round"/>
<g fill="#9a9aff">
<path d="M701.3 256.3l5.98 10.35h-11.95z"/><path d="M752.7 258.1l5.98 10.35h-11.95z"/><path d="M785.9 261.6l5.98 10.35h-11.95z"/><path d="M811.9 264.6l5.98 10.35h-11.95z"/><path d="M833.6 267.9l5.98 10.35h-11.95z"/><path d="M852.6 271.9l5.98 10.35h-11.95z"/><path d="M870.8 275.7l5.98 10.35h-11.95z"/><path d="M887.5 280.5l5.98 10.35h-11.95z"/><path d="M902.7 285.6l5.98 10.35h-11.95z"/><path d="M917.6 293.1l5.98 10.35h-11.95z"/><path d="M932.5 305.1l5.98 10.35h-11.95z"/><path d="M946.9 316.7l5.98 10.35h-11.95z"/><path d="M960.9 326.2l5.98 10.35h-11.95z"/><path d="M974.6 334.3l5.98 10.35h-11.95z"/><path d="M988.2 344.4l5.98 10.35h-11.95z"/><path d="M1001.6 354.4l5.98 10.35h-11.95z"/><path d="M1014.1 362l5.98 10.35h-11.95z"/><path d="M1023 369.31l5.98 10.35h-11.95z"/><path d="M1031.3 375.85l5.98 10.35h-11.95z"/><path d="M1038.6 381.83l5.98 10.35h-11.95z"/><path d="M1045.2 387.37l5.98 10.35h-11.95z"/><path d="M1051.5 392.43l5.98 10.35h-11.95z"/><path d="M1057 396.61l5.98 10.35h-11.95z"/><path d="M1062.2 400.33l5.98 10.35h-11.95z"/><path d="M1066.8 403.06l5.98 10.35h-11.95z"/><path d="M1070.3 404.63l5.98 10.35h-11.95z"/>
</g>
<g fill="#fff"><circle cx="701.3" cy="263.2" r="1.5"/><circle cx="752.7" cy="265" r="1.5"/><circle cx="785.9" cy="268.5" r="1.5"/><circle cx="811.9" cy="271.5" r="1.5"/><circle cx="833.6" cy="274.8" r="1.5"/><circle cx="852.6" cy="278.8" r="1.5"/><circle cx="870.8" cy="282.6" r="1.5"/><circle cx="887.5" cy="287.4" r="1.5"/><circle cx="902.7" cy="292.5" r="1.5"/><circle cx="917.6" cy="300" r="1.5"/><circle cx="932.5" cy="312" r="1.5"/><circle cx="946.9" cy="323.6" r="1.5"/><circle cx="960.9" cy="333.1" r="1.5"/><circle cx="974.6" cy="341.2" r="1.5"/><circle cx="988.2" cy="351.3" r="1.5"/><circle cx="1001.6" cy="361.3" r="1.5"/><circle cx="1014.1" cy="368.9" r="1.5"/><circle cx="1023" cy="376.21" r="1.5"/><circle cx="1031.3" cy="382.75" r="1.5"/><circle cx="1038.6" cy="388.73" r="1.5"/><circle cx="1045.2" cy="394.27" r="1.5"/><circle cx="1051.5" cy="399.33" r="1.5"/><circle cx="1057" cy="403.51" r="1.5"/><circle cx="1062.2" cy="407.23" r="1.5"/><circle cx="1066.8" cy="409.96" r="1.5"/><circle cx="1070.3" cy="411.53" r="1.5"/></g>
<path d="M663.9 257.5C672.63 257.72 699.9 258.33 716.3 258.8C732.7 259.27 749.43 259.57 762.3 260.3C775.17 261.03 784.13 262.2 793.5 263.2C802.87 264.2 810.83 265.27 818.5 266.3C826.17 267.33 832.83 268.25 839.5 269.4C846.17 270.55 852.38 271.95 858.5 273.2C864.62 274.45 870.52 275.55 876.2 276.9C881.88 278.25 887.25 279.57 892.6 281.3C897.95 283.03 903.2 284.63 908.3 287.3C913.4 289.97 918.27 293.18 923.2 297.3C928.13 301.42 933.05 307.58 937.9 312C942.75 316.42 947.57 320.18 952.3 323.8C957.03 327.42 961.73 330.58 966.3 333.7C970.87 336.82 975.23 339.23 979.7 342.5C984.17 345.77 988.67 349.97 993.1 353.3C997.53 356.63 1002.12 359.55 1006.3 362.5C1010.48 365.45 1014.75 368.18 1018.2 371C1021.65 373.82 1024.15 376.78 1027 379.4C1029.85 382.02 1032.7 384.43 1035.3 386.7C1037.9 388.97 1040.28 391.08 1042.6 393C1044.92 394.92 1047.05 396.53 1049.2 398.2C1051.35 399.87 1053.53 401.53 1055.5 403C1057.47 404.47 1059.22 405.85 1061 407C1062.78 408.15 1064.57 409.13 1066.2 409.9C1067.83 410.67 1069.45 411.17 1070.8 411.6C1072.15 412.03 1073.72 412.35 1074.3 412.5" fill="none" stroke="#b0b0ff" stroke-width="1.1" stroke-linejoin="round"/>
<g fill="#b0b0ff">
<path d="M716.3 251.9l5.98 10.35h-11.95z"/><path d="M762.3 253.4l5.98 10.35h-11.95z"/><path d="M793.5 256.3l5.98 10.35h-11.95z"/><path d="M818.5 259.4l5.98 10.35h-11.95z"/><path d="M839.5 262.5l5.98 10.35h-11.95z"/><path d="M858.5 266.3l5.98 10.35h-11.95z"/><path d="M876.2 270l5.98 10.35h-11.95z"/><path d="M892.6 274.4l5.98 10.35h-11.95z"/><path d="M908.3 280.4l5.98 10.35h-11.95z"/><path d="M923.2 290.4l5.98 10.35h-11.95z"/><path d="M937.9 305.1l5.98 10.35h-11.95z"/><path d="M952.3 316.9l5.98 10.35h-11.95z"/><path d="M966.3 326.8l5.98 10.35h-11.95z"/><path d="M979.7 335.6l5.98 10.35h-11.95z"/><path d="M993.1 346.4l5.98 10.35h-11.95z"/><path d="M1006.3 355.6l5.98 10.35h-11.95z"/><path d="M1018.2 364.1l5.98 10.35h-11.95z"/><path d="M1027 372.5l5.98 10.35h-11.95z"/><path d="M1035.3 379.8l5.98 10.35h-11.95z"/><path d="M1042.6 386.1l5.98 10.35h-11.95z"/><path d="M1049.2 391.3l5.98 10.35h-11.95z"/><path d="M1055.5 396.1l5.98 10.35h-11.95z"/><path d="M1061 400.1l5.98 10.35h-11.95z"/><path d="M1066.2 403l5.98 10.35h-11.95z"/><path d="M1070.8 404.7l5.98 10.35h-11.95z"/><path d="M1074.3 405.6l5.98 10.35h-11.95z"/>
</g>
<g fill="#fff"><circle cx="716.3" cy="258.8" r="1.5"/><circle cx="762.3" cy="260.3" r="1.5"/><circle cx="793.5" cy="263.2" r="1.5"/><circle cx="818.5" cy="266.3" r="1.5"/><circle cx="839.5" cy="269.4" r="1.5"/><circle cx="858.5" cy="273.2" r="1.5"/><circle cx="876.2" cy="276.9" r="1.5"/><circle cx="892.6" cy="281.3" r="1.5"/><circle cx="908.3" cy="287.3" r="1.5"/><circle cx="923.2" cy="297.3" r="1.5"/><circle cx="937.9" cy="312" r="1.5"/><circle cx="952.3" cy="323.8" r="1.5"/><circle cx="966.3" cy="333.7" r="1.5"/><circle cx="979.7" cy="342.5" r="1.5"/><circle cx="993.1" cy="353.3" r="1.5"/><circle cx="1006.3" cy="362.5" r="1.5"/><circle cx="1018.2" cy="371" r="1.5"/><circle cx="1027" cy="379.4" r="1.5"/><circle cx="1035.3" cy="386.7" r="1.5"/><circle cx="1042.6" cy="393" r="1.5"/><circle cx="1049.2" cy="398.2" r="1.5"/><circle cx="1055.5" cy="403" r="1.5"/><circle cx="1061" cy="407" r="1.5"/><circle cx="1066.2" cy="409.9" r="1.5"/><circle cx="1070.8" cy="411.6" r="1.5"/><circle cx="1074.3" cy="412.5" r="1.5"/></g>
</g>
<path d="M931.8 412.4V73" stroke="#333" stroke-width="1.5" stroke-dasharray="13.65 13.65" fill="none"/>
<path d="M902.9 265V365.8" stroke="#666" stroke-width="1.5" fill="none"/>
<path d="M902.9 366l-4.5 -11.7h9z" fill="#666"/>
<text x="640.93" y="420.8" font-size="24.4" fill="#111">0</text>
<text x="640.95" y="352.92" font-size="24.4" fill="#111">5</text>
<text x="628.73" y="285.04" font-size="24.4" fill="#111">10</text>
<text x="628.75" y="217.16" font-size="24.4" fill="#111">15</text>
<text x="628.73" y="149.28" font-size="24.4" fill="#111">20</text>
<text x="628.75" y="81.4" font-size="24.4" fill="#111">25</text>
<text x="645.86" y="445.8" font-size="24.4" fill="#111">10</text>
<text x="670.06" y="436.3" font-size="19.4" fill="#111">0</text>
<text x="796.64" y="445.8" font-size="24.4" fill="#111">10</text>
<text x="819.88" y="436.3" font-size="19.4" fill="#111">1</text>
<text x="947.42" y="445.8" font-size="24.4" fill="#111">10</text>
<text x="971.51" y="436.3" font-size="19.4" fill="#111">2</text>
<text x="1098.21" y="445.8" font-size="24.4" fill="#111">10</text>
<text x="1122.22" y="436.3" font-size="19.4" fill="#111">3</text>
<text x="752.25" y="61.9" font-size="24.4" fill="#111">10</text>
<text x="776.43" y="52.4" font-size="19.4" fill="#111">−2</text>
<text x="903.03" y="61.9" font-size="24.4" fill="#111">10</text>
<text x="927.21" y="52.4" font-size="19.4" fill="#111">−1</text>
<text x="1058.92" y="61.9" font-size="24.4" fill="#111">10</text>
<text x="1083.12" y="52.4" font-size="19.4" fill="#111">0</text>
<text x="860.41" y="19.51" font-size="29" font-style="italic" fill="#111">y</text>
<text x="875.3" y="25.42" font-size="38.5" fill="#111">/</text>
<text x="887.64" y="19.25" font-size="25.8" font-style="italic" fill="#111">δ</text>
<text x="875.11" y="489.21" font-size="29" font-style="italic" fill="#111">y</text>
<text x="888.17" y="483.6" font-size="28.6" fill="#111">+</text>
<text transform="translate(582.82 24.09) scale(1.050 1)" font-size="27.8" fill="#111">(</text>
<text transform="translate(592.03 24.6) scale(1.066 1)" font-size="29.5" font-style="italic" fill="#111">b</text>
<text transform="translate(608.16 24.09) scale(1.050 1)" font-size="27.8" fill="#111">)</text>
<rect x="832" y="369.5" width="141" height="32.5" fill="#fff"/>
<text transform="translate(833.7 392.5) scale(1.016 1)" font-size="24.4" fill="#6a6a6a">Increasing</text>
<text transform="translate(947.24 392.5) scale(1.070 1)" font-size="24.4" font-style="italic" fill="#6a6a6a">λ</text>
<text x="958.56" y="387.87" font-size="22.8" fill="#6a6a6a">+</text>
</svg>
</body></html>
